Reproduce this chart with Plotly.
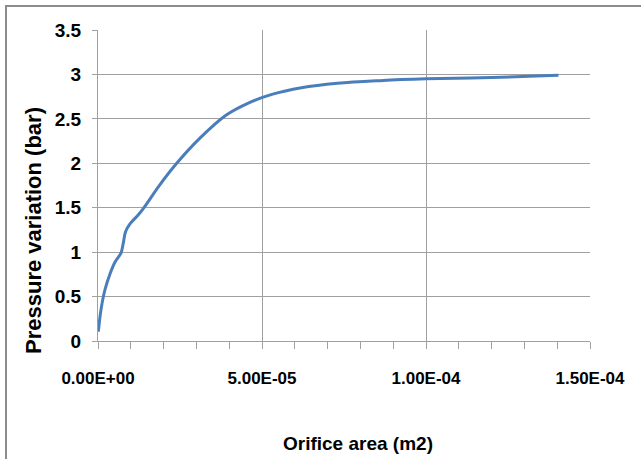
import plotly.graph_objects as go

# Orifice area (m2) and resulting pressure variation (bar)
orifice_area = [1.0e-7, 9.0e-7, 2.1e-6, 3.7e-6, 5.2e-6, 7.0e-6, 7.7e-6, 8.4e-6,
                9.8e-6, 1.23e-5, 1.38e-5, 1.89e-5, 2.4e-5, 3.1e-5, 3.9e-5,
                4.6e-5, 5.3e-5, 6.2e-5, 7.3e-5, 8.6e-5, 1.0e-4, 1.2e-4, 1.404e-4]
pressure_variation = [0.105, 0.35, 0.574, 0.76, 0.89, 0.99, 1.10, 1.23,
                      1.32, 1.42, 1.49, 1.76, 2.0, 2.28, 2.54,
                      2.68, 2.775, 2.85, 2.90, 2.93, 2.95, 2.965, 2.99]

x_tick_values = [0.0, 5e-5, 1e-4, 1.5e-4]
x_tick_labels = ["0.00E+00", "5.00E-05", "1.00E-04", "1.50E-04"]
y_tick_values = [0, 0.5, 1, 1.5, 2, 2.5, 3, 3.5]
y_tick_labels = ["0", "0.5", "1", "1.5", "2", "2.5", "3", "3.5"]

W, H = 641, 459
ML, MR, MT, MB = 98, 51, 30, 118
PW, PH = W - ML - MR, H - MT - MB

def px_x(px):
    return (px - ML) / PW

def px_y(py):
    return (H - MB - py) / PH

grid = "#A0A0A0"
sans = "Liberation Sans, Arial, sans-serif"

fig = go.Figure()
fig.add_trace(go.Scatter(
    x=orifice_area, y=pressure_variation, mode="lines",
    line=dict(color="#4A7EBB", width=3, shape="spline", smoothing=1.0),
    showlegend=False, hoverinfo="skip",
))

fig.update_layout(
    width=W, height=H,
    margin=dict(l=ML, r=MR, t=MT, b=MB),
    paper_bgcolor="white", plot_bgcolor="white",
    xaxis=dict(
        range=[0, 1.5e-4], tickmode="array",
        tickvals=x_tick_values, ticktext=x_tick_labels,
        showgrid=True, gridcolor=grid, gridwidth=1,
        showline=True, linecolor=grid, linewidth=1,
        ticks="outside", ticklen=7, tickcolor=grid,
        minor=dict(dtick=1e-5, ticks="outside", ticklen=7, tickcolor=grid, showgrid=False),
        tickfont=dict(family=sans, size=17, color="black", weight="bold"),
        ticklabelstandoff=15, zeroline=False,
    ),
    yaxis=dict(
        range=[0, 3.5], tickmode="array",
        tickvals=y_tick_values, ticktext=y_tick_labels,
        showgrid=True, gridcolor=grid, gridwidth=1,
        showline=True, linecolor=grid, linewidth=1,
        ticks="outside", ticklen=5, tickcolor=grid,
        tickfont=dict(family=sans, size=19, color="black", weight="bold"),
        ticklabelstandoff=7, zeroline=False,
    ),
    annotations=[
        dict(text="Orifice area (m2)", xref="paper", yref="paper",
             x=px_x(358), y=px_y(443), xanchor="center", yanchor="middle",
             showarrow=False,
             font=dict(family=sans, size=19, color="black", weight="bold")),
        dict(text="Pressure variation (bar)", xref="paper", yref="paper",
             x=px_x(33), y=px_y(231), xanchor="center", yanchor="middle",
             textangle=-90, showarrow=False,
             font=dict(family=sans, size=22, color="black", weight="bold")),
    ],
    shapes=[
        dict(type="rect", xref="paper", yref="paper",
             x0=px_x(6), x1=px_x(660), y0=px_y(480), y1=px_y(6),
             line=dict(color="#8C8C8C", width=2), fillcolor="rgba(0,0,0,0)", layer="below"),
    ],
)

fig.write_html("out.html")
